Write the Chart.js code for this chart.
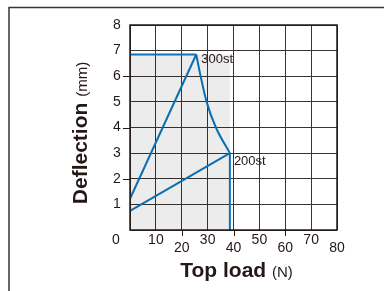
<!DOCTYPE html>
<html>
<head>
<meta charset="utf-8">
<script src="https://cdn.jsdelivr.net/npm/chart.js@4.4.0/dist/chart.umd.min.js"></script>
<style>
  html, body { margin: 0; padding: 0; background: #fff; }
  #wrap { width: 384px; height: 291px; position: relative; }
</style>
</head>
<body>
<div id="wrap"><canvas id="chart" width="384" height="291"></canvas></div>
<script>
// 数据
const xTicks = [0, 10, 20, 30, 40, 50, 60, 70, 80];
const yTicks = [0, 1, 2, 3, 4, 5, 6, 7, 8];

// 300st 曲线 (Top load N, Deflection mm)
const load300 = [0, 25.6];
const defl300 = [1.22, 6.85];
// 上限水平线
const loadTop = [0, 25.6];
const deflTop = [6.85, 6.85];
// 300st 到 200st 的包络曲线
const loadCurve = [25.6, 27.3, 29.6, 33.2, 38.6];
const deflCurve = [6.85, 6.0, 5.0, 4.0, 3.0];
// 200st 曲线
const load200 = [0, 38.6];
const defl200 = [0.75, 3.0];
// 竖线
const loadVert = [38.6, 38.6];
const deflVert = [3.0, 0];
// 灰色区域
const loadArea = [0, 38.6];
const deflArea = [6.85, 6.85];

const BLUE = "#0b77bf";
const INK = "#231815";
const FONT = "'Liberation Sans', Arial, sans-serif";

function pts(xs, ys) {
    return xs.map((x, i) => ({ x: x, y: ys[i] }));
}

function lineSet(xs, ys) {
    return {
        data: pts(xs, ys),
        showLine: true,
        borderColor: BLUE,
        borderWidth: 2,
        pointRadius: 0,
        fill: false,
        tension: 0,
    };
}

// 自定义插件：外框、刻度标签、标题
const decoPlugin = {
    id: "decoPlugin",
    beforeDraw(chart) {
        const { ctx } = chart;
        ctx.save();
        ctx.fillStyle = "#fff";
        ctx.fillRect(0, 0, chart.width, chart.height);
        ctx.strokeStyle = "#3a3435";
        ctx.lineWidth = 1.5;
        ctx.beginPath();
        ctx.moveTo(chart.width, 7.5);
        ctx.lineTo(9, 7.5);
        ctx.lineTo(9, chart.height);
        ctx.stroke();
        ctx.restore();
    },
    afterDraw(chart) {
        const { ctx, chartArea } = chart;
        const xs = chart.scales.x;
        const ys = chart.scales.y;
        ctx.save();

        // 绘图区边框
        ctx.strokeStyle = INK;
        ctx.lineWidth = 1.5;
        ctx.strokeRect(chartArea.left, chartArea.top,
            chartArea.right - chartArea.left, chartArea.bottom - chartArea.top);

        // 小刻度线
        ctx.lineWidth = 1;
        ctx.beginPath();
        [2, 4, 6].forEach((v) => {
            const y = Math.round(ys.getPixelForValue(v)) + 0.5;
            ctx.moveTo(chartArea.left - 7, y);
            ctx.lineTo(chartArea.left, y);
        });
        [20, 40, 60].forEach((v) => {
            const x = Math.round(xs.getPixelForValue(v)) + 0.5;
            ctx.moveTo(x, chartArea.bottom);
            ctx.lineTo(x, chartArea.bottom + 6);
        });
        ctx.stroke();

        // 刻度标签
        ctx.fillStyle = INK;
        ctx.font = "14px " + FONT;
        ctx.textAlign = "center";
        ctx.textBaseline = "middle";
        yTicks.forEach((v) => {
            if (v === 0) return;
            ctx.fillText(String(v), chartArea.left - 13, ys.getPixelForValue(v));
        });
        ctx.fillText("0", chartArea.left - 14, chartArea.bottom + 10);
        xTicks.forEach((v) => {
            if (v === 0) return;
            const low = (v / 10) % 2 === 0;
            ctx.fillText(String(v), xs.getPixelForValue(v), chartArea.bottom + (low ? 18 : 10));
        });

        // 曲线标签
        ctx.font = "13px " + FONT;
        ctx.textAlign = "left";
        ctx.fillText("300st", xs.getPixelForValue(25.6) + 5, ys.getPixelForValue(6.85) + 5);
        ctx.fillText("200st", xs.getPixelForValue(38.6) + 4, ys.getPixelForValue(3.0) + 8);

        // X 轴标题
        const bx = "bold 21px " + FONT;
        const nx = "15px " + FONT;
        ctx.font = bx;
        const w1 = ctx.measureText("Top load ").width;
        ctx.font = nx;
        const w2 = ctx.measureText("(N)").width;
        const cx = (chartArea.left + chartArea.right) / 2 + 3;
        const sx = cx - (w1 + w2) / 2;
        ctx.textBaseline = "alphabetic";
        ctx.font = bx;
        ctx.fillText("Top load ", sx, 277);
        ctx.font = nx;
        ctx.fillText("(N)", sx + w1, 277);

        // Y 轴标题
        ctx.translate(87, 133);
        ctx.rotate(-Math.PI / 2);
        ctx.font = bx;
        const h1 = ctx.measureText("Deflection ").width;
        ctx.font = nx;
        const h2 = ctx.measureText("(mm)").width;
        const sy = -(h1 + h2) / 2;
        ctx.font = bx;
        ctx.fillText("Deflection ", sy, 0);
        ctx.font = nx;
        ctx.fillText("(mm)", sy + h1, 0);

        ctx.restore();
    },
};

new Chart(document.getElementById("chart").getContext("2d"), {
    type: "scatter",
    data: {
        datasets: [
            {
                data: pts(loadArea, deflArea),
                showLine: true,
                borderWidth: 0,
                borderColor: "rgba(0,0,0,0)",
                backgroundColor: "rgba(0,0,0,0.075)",
                pointRadius: 0,
                fill: "origin",
            },
            lineSet(loadTop, deflTop),
            lineSet(load300, defl300),
            Object.assign(lineSet(loadCurve, deflCurve), { cubicInterpolationMode: "monotone" }),
            lineSet(load200, defl200),
            lineSet(loadVert, deflVert),
        ],
    },
    options: {
        responsive: false,
        animation: false,
        layout: { padding: { left: 130, right: 47, top: 25, bottom: 61 } },
        plugins: {
            legend: { display: false },
            tooltip: { enabled: false },
        },
        scales: {
            x: {
                type: "linear",
                min: 0,
                max: 80,
                ticks: { display: false, stepSize: 10 },
                grid: { color: "#3a3434", lineWidth: 1, drawTicks: false },
                border: { display: false },
            },
            y: {
                type: "linear",
                min: 0,
                max: 8,
                ticks: { display: false, stepSize: 1 },
                grid: { color: "#3a3434", lineWidth: 1, drawTicks: false },
                border: { display: false },
            },
        },
    },
    plugins: [decoPlugin],
});
</script>
</body>
</html>
